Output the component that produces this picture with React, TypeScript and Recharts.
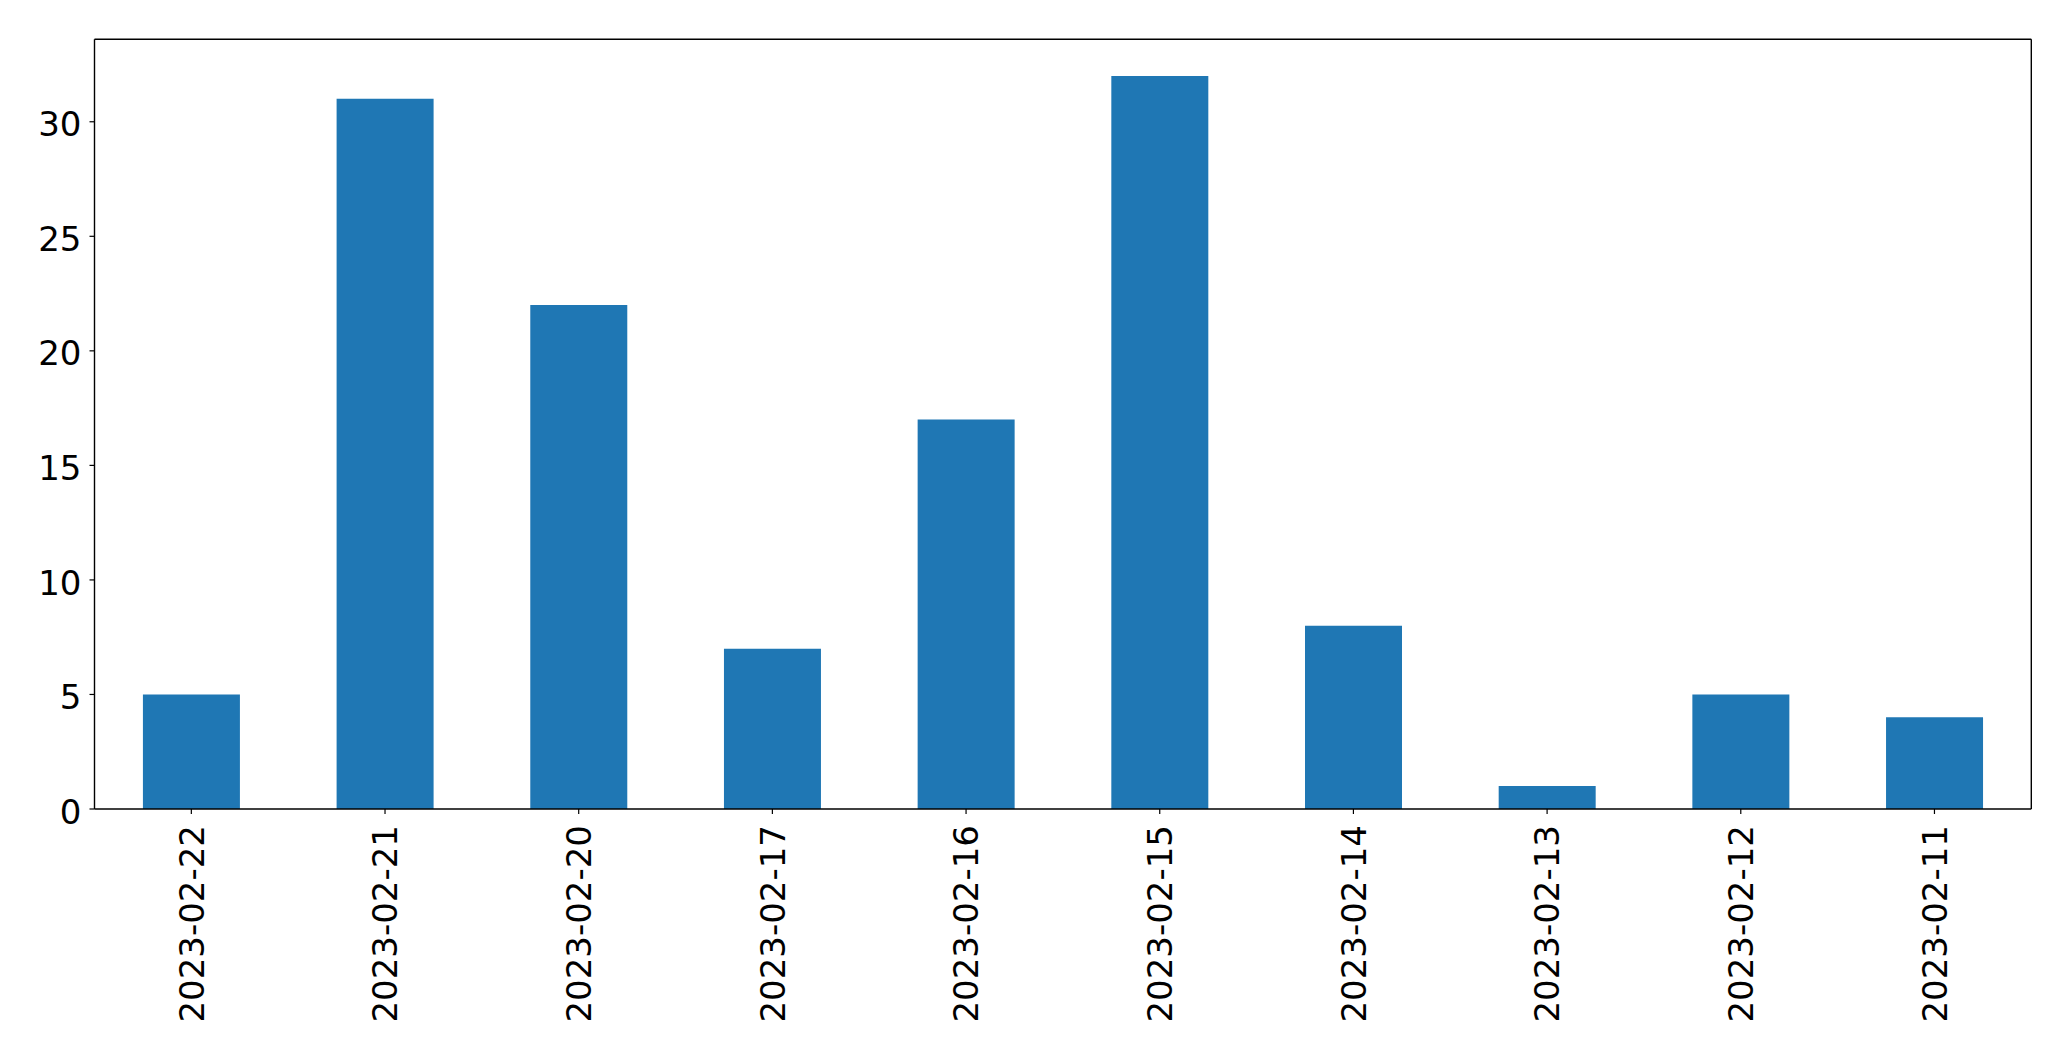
import React from 'react';
import { BarChart, Bar, XAxis, YAxis } from 'recharts';

const categories = ['2023-02-22', '2023-02-21', '2023-02-20', '2023-02-17', '2023-02-16', '2023-02-15', '2023-02-14', '2023-02-13', '2023-02-12', '2023-02-11'];
const counts = [5, 31, 22, 7, 17, 32, 8, 1, 5, 4];
const yTicks = [0, 5, 10, 15, 20, 25, 30];

const data = categories.map((c, i) => ({ date: c, count: counts[i] }));

const FONT = 'DejaVu Sans';
const FS = 34;

const XTick = (props: any) => {
  const { x, y, payload } = props;
  return (
    <g transform={`translate(${x},${y})`}>
      <text
        transform="rotate(-90)"
        x={-11}
        y={0}
        dy="0.36em"
        textAnchor="end"
        fontFamily={FONT}
        fontSize={FS}
        fill="#000"
      >
        {payload.value}
      </text>
    </g>
  );
};

const YTick = (props: any) => {
  const { x, y, payload } = props;
  return (
    <text x={x} y={y} dy="0.43em" textAnchor="end" fontFamily={FONT} fontSize={FS} fill="#000">
      {payload.value}
    </text>
  );
};

export default function App() {
  return (
    <div style={{ position: 'absolute', left: 0, top: 0, width: 2071, height: 1061, background: '#fff' }}>
      <BarChart
        width={2071}
        height={1061}
        data={data}
        margin={{ top: 38.3, right: 38.7, bottom: 0, left: 0.5 }}
        barCategoryGap="25%"
      >
        <XAxis
          dataKey="date"
          xAxisId="b"
          height={252}
          tickSize={5}
          tickMargin={0}
          tick={<XTick />}
          axisLine={{ stroke: '#000', strokeWidth: 1.4 }}
          tickLine={{ stroke: '#000', strokeWidth: 1.2 }}
          interval={0}
        />
        <XAxis
          dataKey="date"
          xAxisId="t"
          orientation="top"
          height={1}
          tick={false}
          tickLine={false}
          axisLine={{ stroke: '#000', strokeWidth: 1.4 }}
        />
        <YAxis
          yAxisId="l"
          width={94}
          domain={[0, 33.6]}
          ticks={yTicks}
          tickSize={5}
          tickMargin={8}
          tick={<YTick />}
          axisLine={{ stroke: '#000', strokeWidth: 1.4 }}
          tickLine={{ stroke: '#000', strokeWidth: 1.2 }}
          allowDataOverflow
        />
        <YAxis
          yAxisId="r"
          orientation="right"
          width={1}
          domain={[0, 33.6]}
          tick={false}
          tickLine={false}
          axisLine={{ stroke: '#000', strokeWidth: 1.4 }}
        />
        <Bar dataKey="count" xAxisId="b" yAxisId="l" fill="#1f77b4" isAnimationActive={false} />
      </BarChart>
    </div>
  );
}
